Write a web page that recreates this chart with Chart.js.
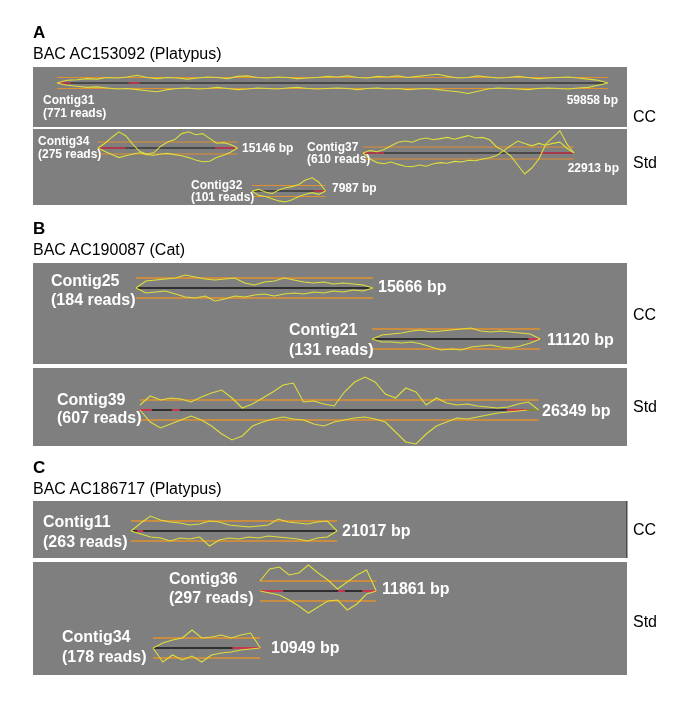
<!DOCTYPE html>
<html><head><meta charset="utf-8">
<script src="https://cdn.jsdelivr.net/npm/chart.js"></script>
<style>
html,body{margin:0;padding:0;background:#fff;}
#wrap{position:relative;width:685px;height:715px;overflow:hidden;font-family:"Liberation Sans",Arial,Helvetica,sans-serif;}
#c{position:absolute;left:0;top:0;}
.t{position:absolute;white-space:nowrap;line-height:1;transform:translateY(-50%);}
.lab{color:#fff;font-weight:bold;}
.hd{color:#000;font-size:16px;}
</style></head><body>
<div id="wrap"><canvas id="c" width="685" height="715"></canvas></div>
<script>
// ---------------- DATA ----------------
const panelLetters = ['A', 'B', 'C'];
const bacNames = ['BAC  AC153092 (Platypus)', 'BAC  AC190087 (Cat)', 'BAC  AC186717 (Platypus)'];
const rowLabels = ['CC', 'Std'];
const contigNames = ['Contig31', 'Contig34', 'Contig37', 'Contig32', 'Contig25', 'Contig21', 'Contig39', 'Contig11', 'Contig36', 'Contig34'];
const contigReads = [771, 275, 610, 101, 184, 131, 607, 263, 297, 178];
const contigLengthBp = [59858, 15146, 22913, 7987, 15666, 11120, 26349, 21017, 11861, 10949];
const contigPanel = [0, 0, 0, 0, 1, 1, 1, 2, 2, 2];
const contigRow = [0, 1, 1, 1, 0, 0, 1, 0, 1, 1]; // 0 = CC, 1 = Std

// coverage traces, in units of the threshold band (orange line = +/-1)
const upperTraces = [
  [0,0.5,0.6,0.8,0.7,1.0,0.9,1.1,1.4,1.0, 0.8,1.0,0.9,0.7,0.9,1.1,1.0,0.8,1.2,1.3, 1.0,0.9,1.1,1.0,0.8,0.9,1.0,1.2,1.1,1.3, 1.0,0.9,1.2,1.1,1.3,1.0,1.2,1.4,1.6,1.2, 0.9,1.0,1.3,1.1,0.9,1.0,1.2,1.0,0.8,0.9, 1.0,1.1,0.9,0.7,0.5,0],
  [0,0.8,1.8,2.7,2.0,0.6,-0.6,-1.0,-0.8,0.3,1.0,1.4,2.4,2.7,2.2,2.4,1.6,0.8,0.9,0.6,0],
  [0,0.4,0.2,0.6,1.2,1.8,2.0,1.8,2.3,2.5,2.2,2.4,2.6,2.3,2.6,2.9,2.5,2.6,2.2,1.0,0.4,-0.5,-2.0,-3.5,-2.5,-1.0,1.5,2.6,3.7,1.5,0],
  [0,0.3,-0.2,-0.5,0.2,0.6,0.8,1.2,2.0,2.4,1.6,0],
  [0,0.7,0.8,0.9,1.0,1.3,1.1,0.9,0.8,0.9,1.0,0.5,0.3,0.6,0.7,1.0,0.8,0.6,0.5,0.6,0.4,0.5,0.4,0.3,0],
  [0,0.4,0.5,0.6,0.8,0.9,0.7,0.8,0.9,1.0,1.1,0.8,0.7,0.8,0.7,0.6,0.5,0],
  [0.5,1.4,1.0,1.2,1.1,0.8,1.3,1.7,2.0,1.2,0.2,0.6,1.2,1.8,2.5,2.7,0.8,0.9,0.6,0.4,1.8,2.8,3.3,2.8,1.6,1.2,2.2,1.8,0.5,1.2,0.7,0.5,0.6,0.4,0.3,0.2,0.3,0.6,0.8,0],
  [0,0.8,1.5,1.1,0.9,0.8,0.6,0.7,1.0,0.9,0.6,0.5,0.4,0.5,0.6,1.2,0.9,0.8,0.7,0.9,1.0,0],
  [1.0,2.2,2.4,1.6,1.8,2.6,1.8,1.1,0.2,0.9,1.6,2.1,0],
  [0,0.5,0.8,1.0,1.8,1.0,1.1,1.3,1.0,1.3,1.5,0]
];
const lowerTraces = [
  [0,-0.4,-0.6,-0.8,-0.7,-0.9,-1.1,-1.0,-1.2,-1.4, -1.6,-1.2,-1.0,-0.9,-1.1,-1.0,-0.8,-1.0,-1.2,-1.1, -0.9,-1.0,-1.1,-0.9,-0.8,-1.0,-1.1,-1.0,-0.9,-1.0, -1.2,-1.0,-0.9,-1.1,-1.0,-1.2,-1.1,-1.0,-1.2,-1.4, -1.6,-1.9,-1.5,-1.1,-0.9,-1.0,-1.1,-1.2,-1.0,-0.9, -1.0,-1.1,-0.9,-0.8,-0.4,0],
  [0,-0.6,-1.1,-1.6,-1.3,-1.0,-0.8,-1.1,-1.2,-1.0,-0.9,-1.1,-1.3,-1.6,-2.0,-2.3,-2.2,-1.6,-1.2,-0.7,0],
  [0,-1.0,-1.6,-1.8,-1.5,-1.9,-2.2,-2.3,-2.0,-2.2,-1.8,-1.6,-1.7,-1.4,-1.5,-1.2,-1.3,-1.0,-0.8,-0.4,0.4,1.2,2.0,1.6,1.2,1.6,1.3,1.6,1.8,0.8,0],
  [0,-0.8,-1.0,-1.4,-1.8,-2.0,-1.6,-1.0,-0.6,-0.3,-0.6,0],
  [0,-0.5,-0.4,-0.3,-0.6,-0.9,-1.0,-0.8,-1.3,-1.1,-0.8,-0.9,-0.7,-0.6,-0.8,-0.6,-0.5,-0.6,-0.4,-0.5,-0.3,-0.4,-0.2,-0.3,0],
  [0,-0.3,-0.3,-0.4,-0.3,-0.5,-0.8,-1.1,-1.0,-1.1,-0.8,-0.7,-0.6,-0.8,-0.9,-0.7,-0.4,0],
  [0,-1.2,-1.8,-1.4,-1.0,-0.6,-1.0,-1.6,-2.4,-3.0,-2.6,-1.6,-1.2,-0.9,-0.7,-0.9,-1.0,-1.4,-1.6,-1.2,-1.0,-0.8,-0.7,-0.9,-1.2,-2.2,-3.2,-3.4,-2.4,-1.6,-1.2,-0.8,-0.9,-0.7,-0.5,-0.3,-0.2,-0.1,0,0],
  [0,-0.3,-0.6,-0.7,-1.0,-0.7,-0.8,-0.6,-1.5,-0.9,-0.7,-0.8,-0.6,-0.7,-0.5,-0.6,-0.7,-0.8,-1.0,-0.7,-0.6,0],
  [0,-0.2,-0.4,-0.9,-1.5,-2.2,-1.6,-1.0,-0.9,-1.9,-1.3,-0.3,0],
  [0,-1.4,-0.7,-1.2,-0.8,-1.4,-0.7,-0.5,-0.4,-0.2,-0.1,0]
];
// flagged stretches of the consensus line (fraction of contig length)
const flaggedRanges = [
  [[0,0.025],[0.13,0.15]],
  [[0,0.2],[0.84,1]],
  [[0,0.1],[0.84,1]],
  [[0.84,1]],
  [],
  [[0.93,1]],
  [[0,0.03],[0.08,0.1],[0.92,0.97]],
  [[0.03,0.06]],
  [[0,0.2],[0.67,0.73],[0.88,1]],
  [[0.74,1]]
];

// ---------------- LAYOUT ----------------
const panelRects = [ // page px: x0,y0,x1,y1
  [[33,67,627,127],[33,129,627,205]],
  [[33,263,627,364],[33,368,627,446]],
  [[33,501,627,558],[33,562,627,675]]
];
const bpPerPx = [108.6, 66.1, 102];
const contigStartPx = [57, 98, 363, 252, 136, 372, 140, 131, 260, 153];
const contigCenterY = [83, 148, 153, 191, 288, 339, 410, 531, 591, 648];
const bandHalfPx = [5.5, 6, 6, 5.5, 10, 10, 10, 10, 10, 10];
const labelFontPx = [12, 16, 16];
const nameLabelPos = [[43,100],[38,141],[307,147],[191,185],[51,281],[289,330],[57,400],[43,522],[169,579],[62,637]];
const readsLineGap = [12.5, 13, 12, 12, 19, 20, 18, 20, 19, 20];
const lengthLabelPos = [[618,100,'r'],[242,148,'l'],[619,168,'r'],[332,188,'l'],[378,287,'l'],[547,340,'l'],[542,411,'l'],[342,531,'l'],[382,589,'l'],[271,648,'l']];
const letterY = [32, 228, 467];
const bacY = [54, 250, 489];
const rowLabelY = [[117,163],[315,407],[530,622]];

const COL = { panel:'#7f7f7f', orange:'#e0902e', black:'#141414', red:'#c8354e', yellow:'#dede3c' };

// ---------------- DATASETS ----------------
const datasets = [];
function seg(points, color, width, order) {
  return { data: points, borderColor: color, borderWidth: width, order: order, pointRadius: 0, fill: false, tension: 0 };
}
contigNames.forEach((name, k) => {
  const p = contigPanel[k];
  const x0 = contigStartPx[k];
  const len = contigLengthBp[k];
  const bpToX = bp => x0 + bp / bpPerPx[p];
  const x1 = bpToX(len);
  const yc = contigCenterY[k], h = bandHalfPx[k];
  const thin = p === 0 ? 1.2 : 1.6;
  datasets.push(seg([{x:x0,y:yc-h},{x:x1,y:yc-h}], COL.orange, thin, 4));
  datasets.push(seg([{x:x0,y:yc+h},{x:x1,y:yc+h}], COL.orange, thin, 4));
  datasets.push(seg([{x:x0,y:yc},{x:x1,y:yc}], COL.black, thin, 3));
  flaggedRanges[k].forEach(r => {
    datasets.push(seg([{x:bpToX(len*r[0]),y:yc},{x:bpToX(len*r[1]),y:yc}], COL.red, thin + 0.4, 2));
  });
  const toPts = arr => arr.map((v, i) => ({ x: bpToX(len * i / (arr.length - 1)), y: yc - v * h }));
  datasets.push(seg(toPts(upperTraces[k]), COL.yellow, 1.1, 1));
  datasets.push(seg(toPts(lowerTraces[k]), COL.yellow, 1.1, 1));
});

const panelPlugin = {
  id: 'panels',
  beforeDatasetsDraw(chart) {
    const { ctx, scales: { x, y } } = chart;
    ctx.save();
    ctx.fillStyle = COL.panel;
    panelRects.forEach((rows, p) => rows.forEach(r => {
      const a = x.getPixelForValue(r[0]), b = y.getPixelForValue(r[1]);
      const c = x.getPixelForValue(r[2]), d = y.getPixelForValue(r[3]);
      ctx.fillRect(a, b, c - a, d - b);
    }));
    // dark right edge on panel C CC
    const r = panelRects[2][0];
    ctx.fillStyle = '#4a4a4a';
    ctx.fillRect(x.getPixelForValue(r[2]) - 1, y.getPixelForValue(r[1]), 1.5, y.getPixelForValue(r[3]) - y.getPixelForValue(r[1]));
    ctx.restore();
  }
};

new Chart(document.getElementById('c'), {
  type: 'line',
  data: { datasets },
  options: {
    responsive: false, animation: false, events: [],
    layout: { padding: 0 },
    plugins: { legend: { display: false }, tooltip: { enabled: false } },
    scales: {
      x: { type: 'linear', min: 0, max: 685, display: false },
      y: { type: 'linear', min: 0, max: 715, reverse: true, display: false }
    }
  },
  plugins: [panelPlugin]
});

// ---------------- TEXT ----------------
const wrap = document.getElementById('wrap');
function addText(txt, x, y, cls, size, align, bold) {
  const d = document.createElement('div');
  d.className = 't ' + cls;
  d.textContent = txt;
  d.style.fontSize = size + 'px';
  if (bold) d.style.fontWeight = 'bold';
  if (align === 'r') { d.style.right = (685 - x) + 'px'; } else { d.style.left = x + 'px'; }
  d.style.top = y + 'px';
  wrap.appendChild(d);
}
panelLetters.forEach((L, p) => {
  addText(L, 33, letterY[p], 'hd', 17, 'l', true);
  addText(bacNames[p], 33, bacY[p], 'hd', 16, 'l', false);
  rowLabels.forEach((rl, r) => addText(rl, 633, rowLabelY[p][r], 'hd', 16, 'l', false));
});
contigNames.forEach((name, k) => {
  const fs = labelFontPx[contigPanel[k]];
  const [nx, ny] = nameLabelPos[k];
  addText(name, nx, ny, 'lab', fs, 'l', true);
  addText('(' + contigReads[k] + ' reads)', nx, ny + readsLineGap[k], 'lab', fs, 'l', true);
  const [lx, ly, la] = lengthLabelPos[k];
  addText(contigLengthBp[k] + ' bp', lx, ly, 'lab', fs, la, true);
});
</script>
</body></html>
